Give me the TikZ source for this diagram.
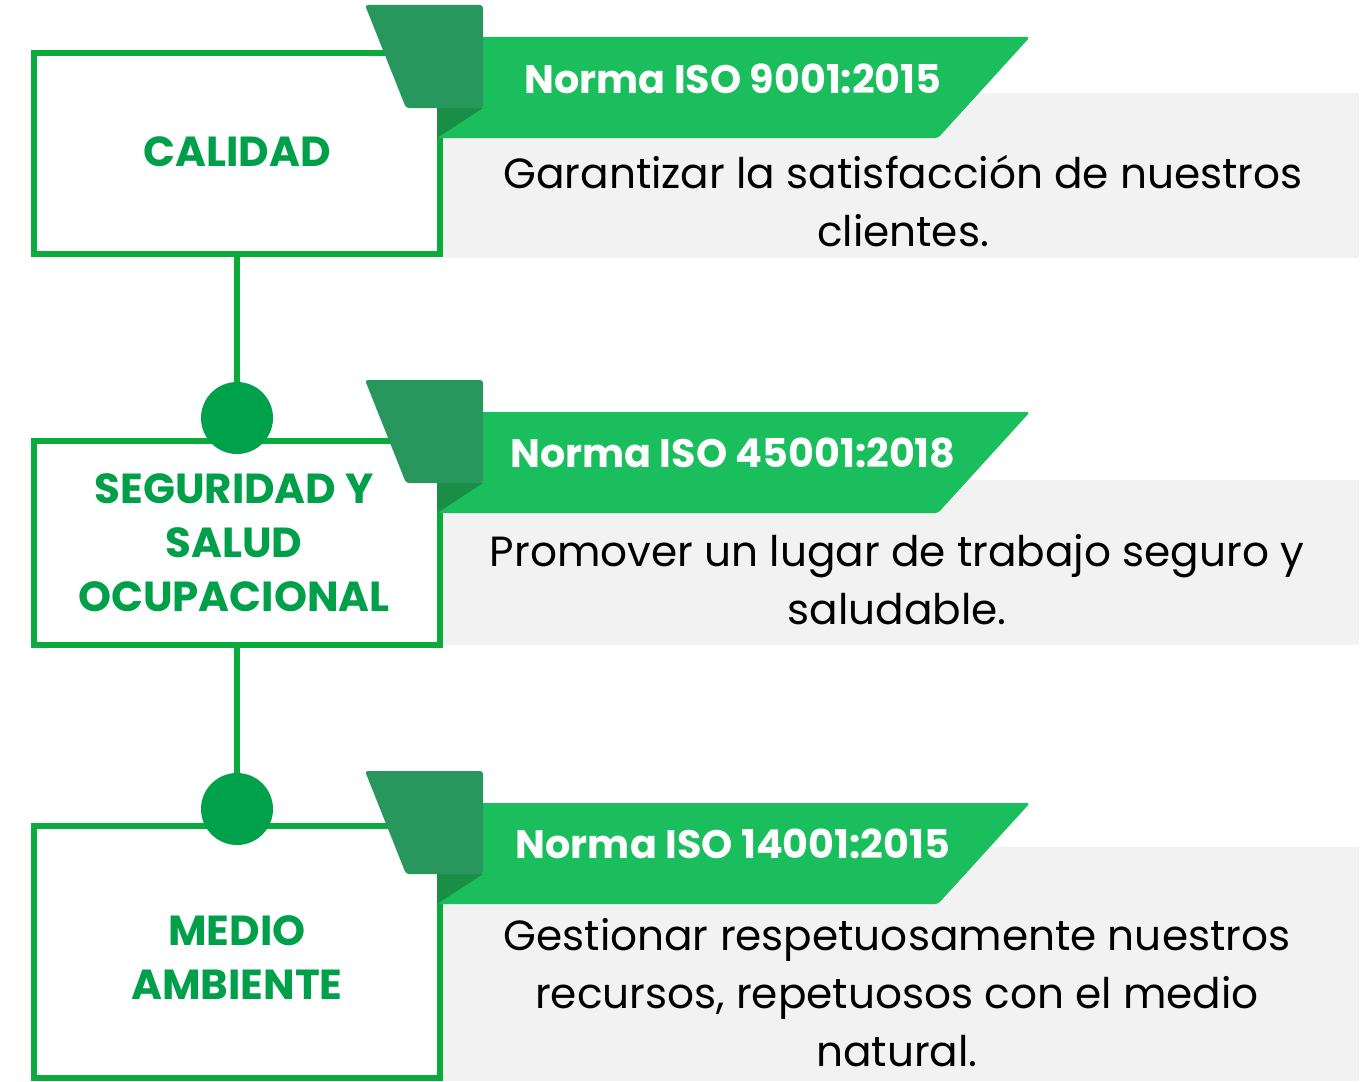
\documentclass[tikz,border=0pt]{standalone}
\usepackage{fontspec}
\setmainfont{Poppins}
\definecolor{boxgreen}{HTML}{0AAA3C}
\definecolor{dotgreen}{HTML}{00A14B}
\definecolor{bannergreen}{HTML}{1ABE5D}
\definecolor{ribbongreen}{HTML}{27975E}
\definecolor{foldgreen}{HTML}{1B8E46}
\definecolor{graybg}{HTML}{F2F2F2}
\definecolor{labelgreen}{HTML}{00A04A}
\begin{document}
\begin{tikzpicture}[x=1pt,y=-1pt,
  box/.style={draw=boxgreen,line width=6pt,fill=white,inner sep=0pt},
  boxlabel/.style={text=labelgreen,font=\fontsize{42}{54}\selectfont\bfseries,align=center,inner sep=0pt},
  dot/.style={circle,fill=dotgreen,minimum size=72pt,inner sep=0pt},
  conn/.style={draw=boxgreen,line width=6pt},
  graypanel/.style={fill=graybg,inner sep=0pt},
  banner/.style={fill=bannergreen,rounded corners=3pt},
  ribbon/.style={fill=ribbongreen,rounded corners=3pt},
  fold/.style={fill=foldgreen},
  title/.style={text=white,font=\fontsize{39.7}{44}\selectfont\bfseries,inner sep=0pt},
  body/.style={text=black,font=\fontsize{42.2}{58}\selectfont,align=center,inner sep=0pt}
]
\useasboundingbox (0,0) rectangle (1364,1081);
% gray panels
\node[graypanel,minimum width=916pt,minimum height=165pt] (g1) at (901,175.5) {};
\node[graypanel,minimum width=916pt,minimum height=165pt] (g2) at (901,562.5) {};
\node[graypanel,minimum width=916pt,minimum height=234pt] (g3) at (901,964) {};
% left boxes
\node[box,minimum width=406pt,minimum height=201pt] (b1) at (237,153.5) {};
\node[box,minimum width=406pt,minimum height=204pt] (b2) at (237,543) {};
\node[box,minimum width=406pt,minimum height=252pt] (b3) at (237,952) {};
\node[boxlabel] (l1) at (237,152) {CALIDAD};
\node[boxlabel] (l2) at (234,543) {SEGURIDAD Y\\SALUD\\OCUPACIONAL};
\node[boxlabel] (l3) at (237,958) {MEDIO\\AMBIENTE};
% dots and connectors
\node[dot] (c1) at (237,418) {};
\node[dot] (c2) at (237,809) {};
\draw[conn] (b1.south) -- (c1.north);
\draw[conn] (b2.south) -- (c2.north);
% banners
\foreach \dy/\n in {0/1,375/2,766/3}{
  \begin{scope}[yshift=-\dy pt]
    \fill[banner] (437,37) -- (1030,37) -- (938,138) -- (437,138) -- cycle;
    \fill[fold] (437,108) -- (483,108) -- (437,138) -- cycle;
    \fill[ribbon] (365,5) -- (483,5) -- (483,108) -- (406,108) -- cycle;
  \end{scope}
}
% titles
\node[title] (h1) at (733,79) {Norma ISO 9001:2015};
\node[title] (h2) at (733,453) {Norma ISO 45001:2018};
\node[title] (h3) at (733,844) {Norma ISO 14001:2015};
% body texts
\node[body] (t1) at (903,201) {Garantizar la satisfacción de nuestros\\clientes.};
\node[body] (t2) at (897,580) {Promover un lugar de trabajo seguro y\\saludable.};
\node[body] (t3) at (897,993) {Gestionar respetuosamente nuestros\\recursos, repetuosos con el medio\\natural.};
\end{tikzpicture}
\end{document}
